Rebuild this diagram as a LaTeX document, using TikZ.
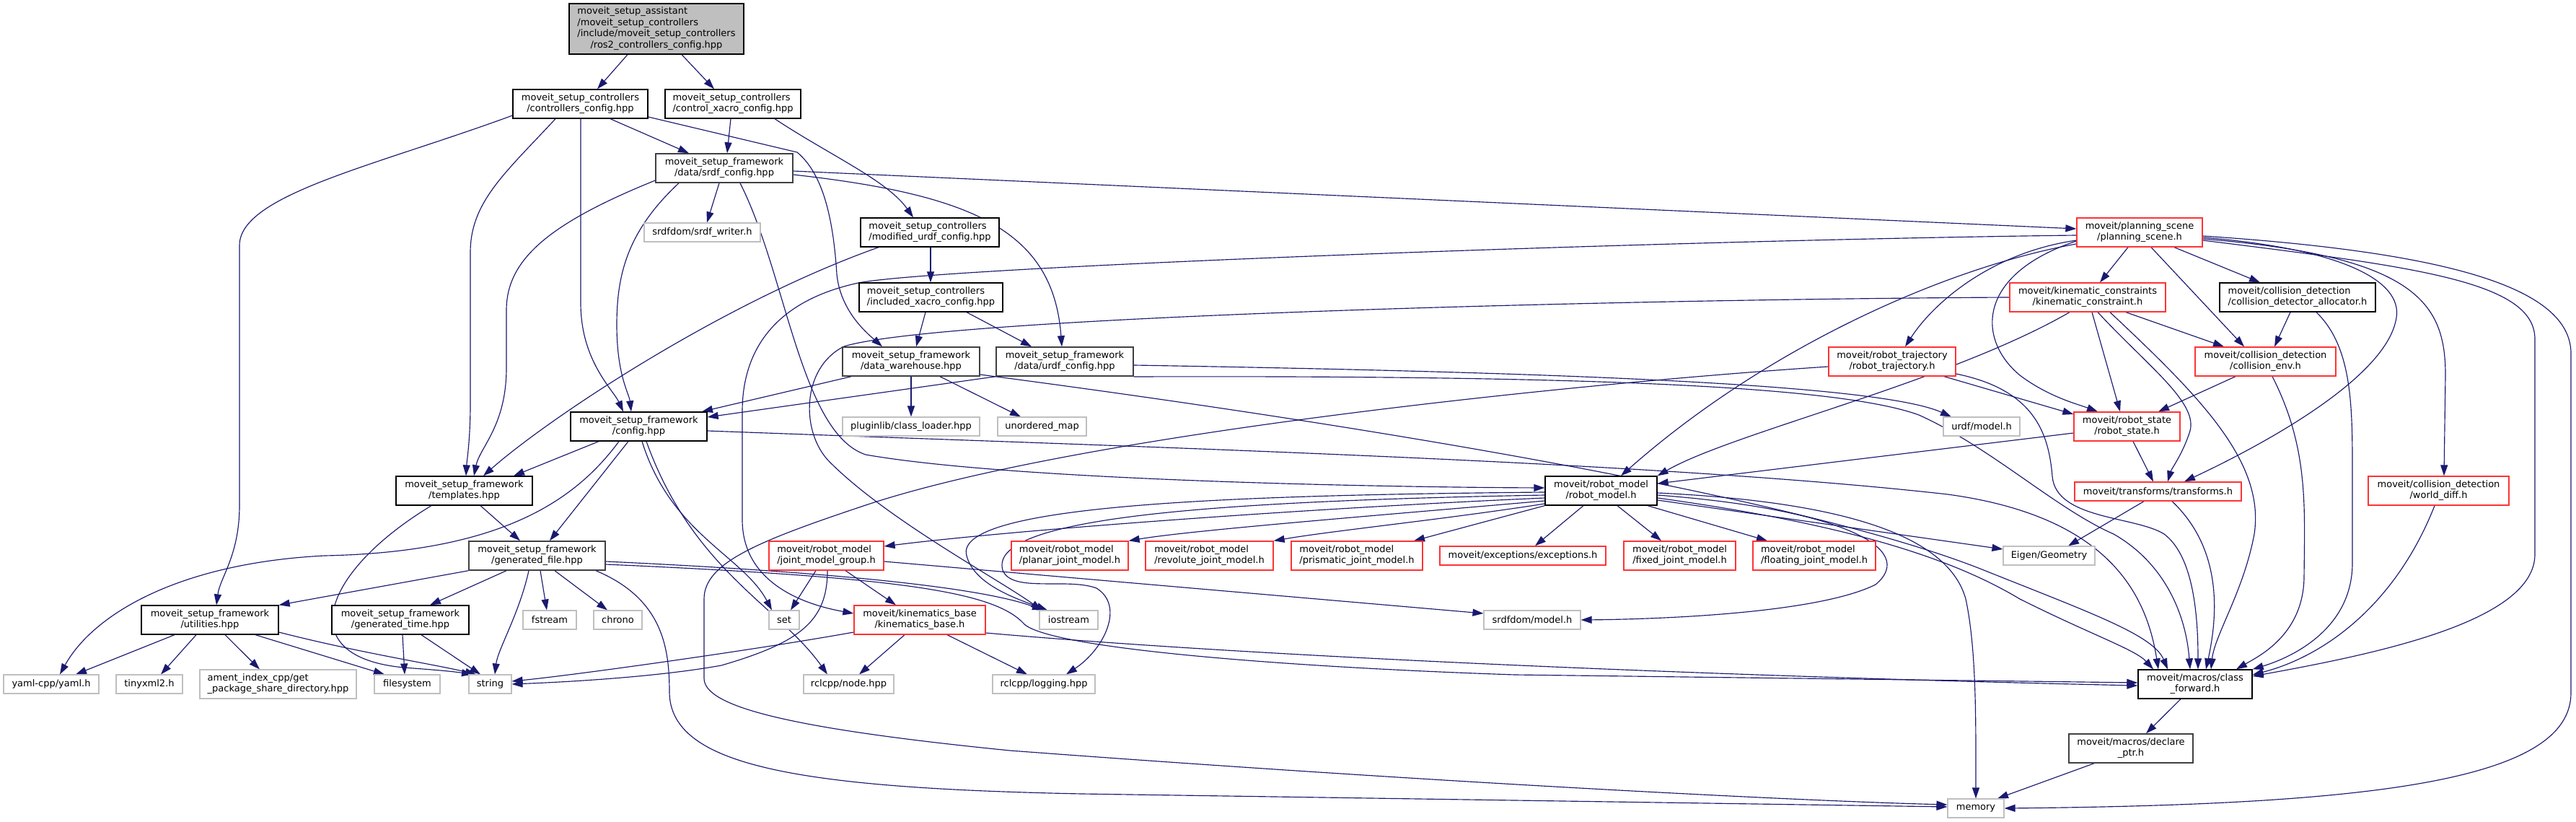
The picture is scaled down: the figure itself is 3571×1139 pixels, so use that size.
\documentclass[tikz,border=0pt]{standalone}
\usepackage{fontspec}
\setmainfont{DejaVu Sans}
\usetikzlibrary{arrows.meta}
\definecolor{edgec}{HTML}{191970}
\definecolor{extgray}{HTML}{BFBFBF}
\definecolor{darkgray}{HTML}{404040}
\definecolor{nodered}{HTML}{FF3333}
\newcommand\lblfont{\fontsize{13}{15.5}\selectfont}
\newcommand\twol[2]{\begin{tabular}{@{}l@{}}#1\\\multicolumn{1}{@{}c@{}}{#2}\end{tabular}}
\newcommand\fourl[4]{\begin{tabular}{@{}l@{}}#1\\#2\\#3\\\multicolumn{1}{@{}c@{}}{#4}\end{tabular}}
\pgfdeclarelayer{back}
\pgfdeclarelayer{bg}
\pgfsetlayers{back,bg,main}
\tikzset{
 base/.style={rectangle, inner sep=0pt, font=\lblfont, fill=white, text=black},
 nb/.style={base, draw=black, line width=1.3pt},
 nd/.style={base, draw=darkgray, line width=1.5pt},
 nr/.style={base, draw=nodered, line width=1.3pt},
 ng/.style={base, draw=extgray, line width=1.1pt},
 sz/.style 2 args={minimum width=#1pt, minimum height=#2pt},
 e/.style={draw=edgec, line width=1.15pt, -{Triangle[length=15pt,width=10pt]}}
}
\begin{document}
\begin{tikzpicture}[x=1pt,y=-1pt]
\useasboundingbox (0,0) rectangle (3571,1139);
\begin{pgfonlayer}{back}
\fill[white] (0,0) rectangle (3571,1139);
\end{pgfonlayer}
% ---------------- nodes ----------------
\node[nb, fill=extgray, sz={242}{70}] (root) at (910,40) {\fourl{moveit\_setup\_assistant}{/moveit\_setup\_controllers}{/include/moveit\_setup\_controllers}{/ros2\_controllers\_config.hpp}};
\node[nb, sz={187}{40}] (ctrlcfg) at (804.5,144) {\twol{moveit\_setup\_controllers}{/controllers\_config.hpp}};
\node[nb, sz={188}{40}] (xacrocfg) at (1016,144) {\twol{moveit\_setup\_controllers}{/control\_xacro\_config.hpp}};
\node[nd, sz={190}{40}] (srdfcfg) at (1004,233) {\twol{moveit\_setup\_framework}{/data/srdf\_config.hpp}};
\node[ng, sz={161}{26}] (srdfwriter) at (973.5,322) {srdfdom/srdf\_writer.h};
\node[nb, sz={192}{40}] (modurdf) at (1289,322) {\twol{moveit\_setup\_controllers}{/modified\_urdf\_config.hpp}};
\node[nr, sz={174}{40}] (planscene) at (2966,322) {\twol{moveit/planning\_scene}{/planning\_scene.h}};
\node[nb, sz={199}{40}] (inclxacro) at (1290.5,412) {\twol{moveit\_setup\_controllers}{/included\_xacro\_config.hpp}};
\node[nr, sz={216}{40}] (kincon) at (2894,412) {\twol{moveit/kinematic\_constraints}{/kinematic\_constraint.h}};
\node[nb, sz={216}{40}] (cdalloc) at (3185,412) {\twol{moveit/collision\_detection}{/collision\_detector\_allocator.h}};
\node[nd, sz={190}{40}] (datawh) at (1263,501) {\twol{moveit\_setup\_framework}{/data\_warehouse.hpp}};
\node[nd, sz={190}{40}] (urdfcfg) at (1476,501) {\twol{moveit\_setup\_framework}{/data/urdf\_config.hpp}};
\node[nr, sz={176}{40}] (robtraj) at (2623,501) {\twol{moveit/robot\_trajectory}{/robot\_trajectory.h}};
\node[nr, sz={195}{40}] (collenv) at (3140.5,501) {\twol{moveit/collision\_detection}{/collision\_env.h}};
\node[nb, sz={189}{40}] (config) at (885.5,591) {\twol{moveit\_setup\_framework}{/config.hpp}};
\node[ng, sz={190}{26}] (pluginlib) at (1263,591) {pluginlib/class\_loader.hpp};
\node[ng, sz={123}{26}] (unordmap) at (1444.5,591) {unordered\_map};
\node[ng, sz={106}{26}] (urdfmodel) at (2747,591) {urdf/model.h};
\node[nr, sz={147}{40}] (robstate) at (2948.5,591) {\twol{moveit/robot\_state}{/robot\_state.h}};
\node[nb, sz={189}{40}] (templates) at (643.5,680) {\twol{moveit\_setup\_framework}{/templates.hpp}};
\node[nb, sz={155}{40}] (robmodel) at (2219.5,680) {\twol{moveit/robot\_model}{/robot\_model.h}};
\node[nr, sz={231}{26}] (transforms) at (2991.5,681) {moveit/transforms/transforms.h};
\node[nr, sz={195}{40}] (worlddiff) at (3380.5,680) {\twol{moveit/collision\_detection}{/world\_diff.h}};
\node[nd, sz={189}{40}] (genfile) at (744.5,770) {\twol{moveit\_setup\_framework}{/generated\_file.hpp}};
\node[nr, sz={159}{40}] (jmg) at (1145.5,770) {\twol{moveit/robot\_model}{/joint\_model\_group.h}};
\node[nr, sz={162}{40}] (planar) at (1483,770) {\twol{moveit/robot\_model}{/planar\_joint\_model.h}};
\node[nr, sz={177}{40}] (revolute) at (1676.5,770) {\twol{moveit/robot\_model}{/revolute\_joint\_model.h}};
\node[nr, sz={182}{40}] (prismatic) at (1881,770) {\twol{moveit/robot\_model}{/prismatic\_joint\_model.h}};
\node[nr, sz={230}{26}] (exceptions) at (2111,770) {moveit/exceptions/exceptions.h};
\node[nr, sz={155}{40}] (fixed) at (2328.5,770) {\twol{moveit/robot\_model}{/fixed\_joint\_model.h}};
\node[nr, sz={170}{40}] (floating) at (2515,770) {\twol{moveit/robot\_model}{/floating\_joint\_model.h}};
\node[ng, sz={127}{26}] (eigen) at (2840.5,770) {Eigen/Geometry};
\node[nb, sz={190}{40}] (utilities) at (291,859) {\twol{moveit\_setup\_framework}{/utilities.hpp}};
\node[nb, sz={190}{40}] (gentime) at (555,859) {\twol{moveit\_setup\_framework}{/generated\_time.hpp}};
\node[ng, sz={74}{26}] (fstream) at (762,859) {fstream};
\node[ng, sz={67}{26}] (chrono) at (856.5,859) {chrono};
\node[ng, sz={42}{26}] (set) at (1087,859) {set};
\node[nr, sz={182}{40}] (kinbase) at (1275,859) {\twol{moveit/kinematics\_base}{/kinematics\_base.h}};
\node[ng, sz={81}{26}] (iostream) at (1481.5,859) {iostream};
\node[ng, sz={134}{26}] (srdfmodel) at (2124,859) {srdfdom/model.h};
\node[ng, sz={132}{26}] (yaml) at (71,948) {yaml-cpp/yaml.h};
\node[ng, sz={92}{26}] (tinyxml) at (207,948) {tinyxml2.h};
\node[ng, sz={217}{40}] (ament) at (385.5,948) {\twol{ament\_index\_cpp/get}{\_package\_share\_directory.hpp}};
\node[ng, sz={91}{26}] (filesystem) at (564.5,948) {filesystem};
\node[ng, sz={59}{26}] (string) at (679.5,948) {string};
\node[ng, sz={125}{26}] (rclnode) at (1176.5,948) {rclcpp/node.hpp};
\node[ng, sz={142}{26}] (rcllog) at (1447,948) {rclcpp/logging.hpp};
\node[nb, sz={158}{40}] (classfwd) at (3043,948) {\twol{moveit/macros/class}{\_forward.h}};
\node[nd, sz={172}{40}] (declptr) at (2954,1037) {\twol{moveit/macros/declare}{\_ptr.h}};
\node[ng, sz={78}{26}] (memory) at (2739,1120) {memory};
% ---------------- edges ----------------
\begin{pgfonlayer}{bg}
\draw[e] (root.south -| 870,0) -- (ctrlcfg.north -| 828,0);
\draw[e] (root.south -| 945,0) -- (xacrocfg.north -| 990,0);
% controllers_config
\draw[e] (ctrlcfg.west |- 0,160) .. controls (520,230) and (332,270) .. (332,340) -- (332,700) .. controls (332,770) and (305,800) .. (utilities.north -| 300,0);
\draw[e] (ctrlcfg.south -| 770,0) .. controls (700,240) and (652,280) .. (652,350) -- (652,560) .. controls (652,610) and (647,640) .. (templates.north -| 646,0);
\draw[e] (ctrlcfg.south -| 805,0) -- (805,420) .. controls (805,500) and (850,540) .. (config.north -| 864,0);
\draw[e] (ctrlcfg.south -| 846,0) -- (srdfcfg.north -| 955,0);
\draw[e] (ctrlcfg.east |- 0,162) -- (1105,211) .. controls (1140,240) and (1155,300) .. (1160,380) .. controls (1165,430) and (1200,460) .. (datawh.north -| 1223,0);
% control_xacro_config
\draw[e] (xacrocfg.south -| 1013,0) -- (srdfcfg.north -| 1008,0);
\draw[e] (xacrocfg.south -| 1074,0) .. controls (1150,215) and (1230,250) .. (modurdf.north -| 1266,0);
% srdf_config
\draw[e] (srdfcfg.west |- 0,250) .. controls (760,310) and (702,360) .. (702,430) -- (702,510) .. controls (702,590) and (665,620) .. (templates.north -| 657,0);
\draw[e] (srdfcfg.south -| 941,0) .. controls (870,320) and (855,380) .. (855,450) .. controls (855,520) and (872,545) .. (config.north -| 875,0);
\draw[e] (srdfcfg.south -| 997,0) -- (srdfwriter.north -| 980,0);
\draw[e] (srdfcfg.east |- 0,237) -- (planscene.west |- 0,317);
\draw[e] (srdfcfg.east |- 0,242) .. controls (1350,270) and (1460,320) .. (urdfcfg.north -| 1472,0);
\draw[e] (srdfcfg.south -| 1026,0) .. controls (1090,380) and (1110,600) .. (1200,630) .. controls (1400,665) and (1900,675) .. (robmodel.west |- 0,676);
% modified_urdf_config / included_xacro_config
\draw[e] (modurdf.south -| 1218,0) .. controls (1000,420) and (760,580) .. (templates.north -| 670,0);
\draw[e] (modurdf.south -| 1290,0) -- (inclxacro.north -| 1290,0);
\draw[e] (inclxacro.south -| 1283,0) -- (datawh.north -| 1270,0);
\draw[e] (inclxacro.south -| 1340,0) -- (urdfcfg.north -| 1430,0);
% data_warehouse / urdf_config
\draw[e] (datawh.south -| 1263,0) -- (pluginlib.north -| 1263,0);
\draw[e] (datawh.south -| 1303,0) -- (unordmap.north -| 1415,0);
\draw[e] (datawh.south -| 1180,0) -- (config.north -| 973,0);
\draw[e] (datawh.east |- 0,519) .. controls (1900,590) and (2500,690) .. (2750,790) .. controls (2900,850) and (2985,880) .. (classfwd.north -| 3005,0);
\draw[e] (urdfcfg.south west) -- (config.east |- 0,578);
\draw[e] (urdfcfg.east |- 0,506) .. controls (2100,515) and (2600,530) .. (urdfmodel.north -| 2705,0);
\draw[e] (urdfcfg.east |- 0,522) .. controls (2200,520) and (2550,535) .. (2660,575) .. controls (2760,620) and (2850,705) .. (2930,740) .. controls (3000,780) and (3030,850) .. (classfwd.north -| 3036,0);
% config
\draw[e] (config.south -| 830,0) -- (templates.north -| 712,0);
\draw[e] (config.south -| 858,0) .. controls (800,690) and (700,765) .. (450,770) .. controls (250,780) and (130,850) .. (yaml.north -| 83,0);
\draw[e] (config.south -| 871,0) -- (genfile.north -| 762,0);
\draw[e] (config.south -| 890,0) .. controls (930,740) and (1030,770) .. (set.north -| 1070,0);
\draw[e] (config.south -| 896,0) .. controls (960,790) and (1080,840) .. (rclnode.north -| 1147,0);
\draw[e] (config.east |- 0,597) .. controls (1600,620) and (2300,640) .. (2700,685) .. controls (2920,715) and (2975,820) .. (classfwd.north -| 2992,0);
% templates
\draw[e] (templates.south -| 666,0) -- (genfile.north -| 721,0);
\draw[e] (templates.south -| 598,0) .. controls (450,790) and (400,910) .. (560,925) .. controls (600,928) and (625,930) .. (string.north -| 655,0);
% generated_file
\draw[e] (genfile.south west) -- (utilities.north east);
\draw[e] (genfile.south -| 702,0) -- (gentime.north -| 596,0);
\draw[e] (genfile.south -| 733,0) .. controls (720,850) and (690,900) .. (string.north -| 686,0);
\draw[e] (genfile.south -| 749,0) -- (fstream.north -| 758,0);
\draw[e] (genfile.south -| 769,0) -- (chrono.north -| 842,0);
\draw[e] (genfile.east |- 0,778) .. controls (1100,790) and (1350,810) .. (iostream.north -| 1446,0);
\draw[e] (genfile.east |- 0,782) .. controls (1250,800) and (1380,820) .. (1420,865) .. controls (1460,900) and (1800,925) .. (2100,935) -- (classfwd.west |- 0,946);
\draw[e] (genfile.south -| 826,0) .. controls (920,830) and (928,900) .. (928,960) .. controls (930,1060) and (1100,1092) .. (1500,1100) -- (memory.west |- 0,1118);
% utilities / generated_time
\draw[e] (utilities.south -| 242,0) -- (yaml.north -| 105,0);
\draw[e] (utilities.south -| 272,0) -- (tinyxml.north -| 223,0);
\draw[e] (utilities.south -| 312,0) -- (ament.north -| 360,0);
\draw[e] (utilities.south -| 354,0) -- (filesystem.north -| 533,0);
\draw[e] (utilities.east |- 0,876) .. controls (500,905) and (600,920) .. (string.north -| 660,0);
\draw[e] (gentime.south -| 558,0) -- (filesystem.north -| 561,0);
\draw[e] (gentime.south -| 584,0) -- (string.north -| 666,0);
% joint_model_group / kinematics_base
\draw[e] (jmg.south -| 1131,0) -- (set.north -| 1096,0);
\draw[e] (jmg.south -| 1172,0) -- (kinbase.north -| 1242,0);
\draw[e] (jmg.south -| 1147,0) .. controls (1147,860) and (1110,890) .. (1000,922) .. controls (900,940) and (760,946) .. (string.east |- 0,948);
\draw[e] (jmg.east |- 0,778) -- (srdfmodel.west |- 0,850);
\draw[e] (kinbase.south -| 1254,0) -- (rclnode.north -| 1191,0);
\draw[e] (kinbase.south -| 1313,0) -- (rcllog.north -| 1424,0);
\draw[e] (kinbase.west |- 0,876) .. controls (1050,900) and (800,935) .. (string.east |- 0,944);
\draw[e] (kinbase.east |- 0,877) .. controls (1800,915) and (2500,940) .. (classfwd.west |- 0,950);
% robot_model
\draw[e] (robmodel.west |- 0,690) .. controls (1800,705) and (1400,735) .. (jmg.east |- 0,757);
\draw[e] (robmodel.west |- 0,694) .. controls (1900,715) and (1650,735) .. (planar.north east);
\draw[e] (robmodel.west |- 0,698) .. controls (2000,720) and (1850,735) .. (revolute.north east);
\draw[e] (robmodel.south west) -- (prismatic.north -| 1960,0);
\draw[e] (robmodel.south -| 2195,0) -- (exceptions.north -| 2128,0);
\draw[e] (robmodel.south -| 2242,0) -- (fixed.north -| 2303,0);
\draw[e] (robmodel.south -| 2284,0) -- (floating.north -| 2450,0);
\draw[e] (robmodel.east |- 0,693) -- (eigen.west |- 0,761);
\draw[e] (robmodel.east |- 0,686) .. controls (2550,705) and (2660,760) .. (2600,810) .. controls (2520,850) and (2300,858) .. (srdfmodel.east);
\draw[e] (robmodel.east |- 0,683) .. controls (2550,695) and (2700,740) .. (2725,830) .. controls (2740,900) and (2739,1000) .. (memory.north);
\draw[e] (robmodel.east |- 0,690) .. controls (2550,725) and (2700,770) .. (2800,830) .. controls (2900,880) and (2960,900) .. (classfwd.north -| 2985,0);
\draw[e] (robmodel.west |- 0,682) .. controls (1700,686) and (1320,700) .. (1340,770) .. controls (1350,810) and (1410,830) .. (iostream.north -| 1452,0);
\draw[e] (robmodel.west |- 0,686) .. controls (1650,695) and (1370,720) .. (1390,790) .. controls (1402,822) and (1480,800) .. (1520,815) .. controls (1560,840) and (1530,900) .. (rcllog.north -| 1478,0);
% robot_state, transforms, world_diff, collision
\draw[e] (robstate.west |- 0,600) -- (robmodel.east |- 0,670);
\draw[e] (robstate.south -| 2957,0) -- (transforms.north -| 2985,0);
\draw[e] (transforms.south -| 2972,0) -- (eigen.north -| 2867,0);
\draw[e] (transforms.south -| 3011,0) .. controls (3080,760) and (3075,850) .. (classfwd.north -| 3058,0);
\draw[e] (worlddiff.south -| 3375,0) .. controls (3320,840) and (3220,910) .. (classfwd.east |- 0,935);
\draw[e] (collenv.south -| 3099,0) -- (robstate.north -| 2992,0);
\draw[e] (collenv.south -| 3150,0) .. controls (3200,620) and (3195,700) .. (3194,800) .. controls (3193,880) and (3130,910) .. (classfwd.north -| 3100,0);
\draw[e] (cdalloc.south -| 3175,0) -- (collenv.north -| 3153,0);
\draw[e] (cdalloc.south -| 3211,0) .. controls (3260,480) and (3261,560) .. (3261,650) -- (3261,780) .. controls (3261,870) and (3180,910) .. (classfwd.north east);
% kinematic_constraint
\draw[e] (kincon.south -| 2947,0) -- (collenv.north -| 3083,0);
\draw[e] (kincon.south -| 2900,0) -- (robstate.north -| 2939,0);
\draw[e] (kincon.south -| 2908,0) .. controls (2980,510) and (3050,560) .. (3035,600) .. controls (3025,630) and (3010,650) .. (transforms.north -| 3005,0);
\draw[e] (kincon.south -| 2925,0) .. controls (3050,550) and (3140,640) .. (3125,740) .. controls (3110,820) and (3070,880) .. (classfwd.north -| 3065,0);
\draw[e] (kincon.south -| 2869,0) .. controls (2700,530) and (2400,600) .. (robmodel.north east);
\draw[e] (kincon.west) .. controls (2200,415) and (1300,440) .. (1170,480) .. controls (1110,510) and (1110,600) .. (1150,640) .. controls (1230,720) and (1380,800) .. (iostream.north -| 1444,0);
% planning_scene
\draw[e] (planscene.south -| 2950,0) -- (kincon.north -| 2911,0);
\draw[e] (planscene.south -| 2982,0) -- (collenv.north -| 3111,0);
\draw[e] (planscene.south -| 3014,0) -- (cdalloc.north -| 3133,0);
\draw[e] (planscene.west |- 0,334) .. controls (2740,380) and (2740,470) .. (2800,520) .. controls (2840,550) and (2880,560) .. (robstate.north -| 2908,0);
\draw[e] (planscene.east |- 0,329) .. controls (3250,345) and (3330,390) .. (3322,440) .. controls (3310,520) and (3150,610) .. (transforms.north -| 3028,0);
\draw[e] (planscene.east |- 0,331) .. controls (3350,355) and (3390,420) .. (3390,520) -- (worlddiff.north -| 3388,0);
\draw[e] (planscene.east |- 0,333) .. controls (3350,370) and (3514,390) .. (3514,470) -- (3514,768) .. controls (3514,860) and (3300,905) .. (classfwd.east |- 0,937);
\draw[e] (planscene.east |- 0,327) .. controls (3400,350) and (3564,400) .. (3564,490) -- (3564,960) .. controls (3564,1080) and (3300,1115) .. (memory.east);
\draw[e] (planscene.west |- 0,333) .. controls (2760,350) and (2680,420) .. (robtraj.north -| 2641,0);
\draw[e] (planscene.west |- 0,338) .. controls (2700,370) and (2450,480) .. (robmodel.north -| 2247,0);
\draw[e] (planscene.west |- 0,326) .. controls (2300,333) and (1300,370) .. (1190,392) .. controls (1060,420) and (1029,500) .. (1029,570) -- (1029,720) .. controls (1029,800) and (1100,835) .. (kinbase.west |- 0,850);
% robot_trajectory
\draw[e] (robtraj.south -| 2695,0) -- (robstate.west |- 0,574);
\draw[e] (robtraj.east |- 0,518) .. controls (2820,540) and (2840,600) .. (2845,660) .. controls (2850,720) and (2960,715) .. (3000,740) .. controls (3040,770) and (3047,850) .. (classfwd.north -| 3047,0);
\draw[e] (robtraj.west |- 0,508) .. controls (2200,530) and (1500,600) .. (1200,700) .. controls (1050,750) and (976,780) .. (976,830) -- (976,940) .. controls (976,980) and (1100,1010) .. (1400,1040) .. controls (2000,1085) and (2500,1110) .. (memory.west |- 0,1115);
% class_forward / declare_ptr
\draw[e] (classfwd.south -| 3023,0) -- (declptr.north -| 2975,0);
\draw[e] (declptr.south -| 2903,0) -- (memory.north -| 2769,0);
\end{pgfonlayer}
\end{tikzpicture}
\end{document}
